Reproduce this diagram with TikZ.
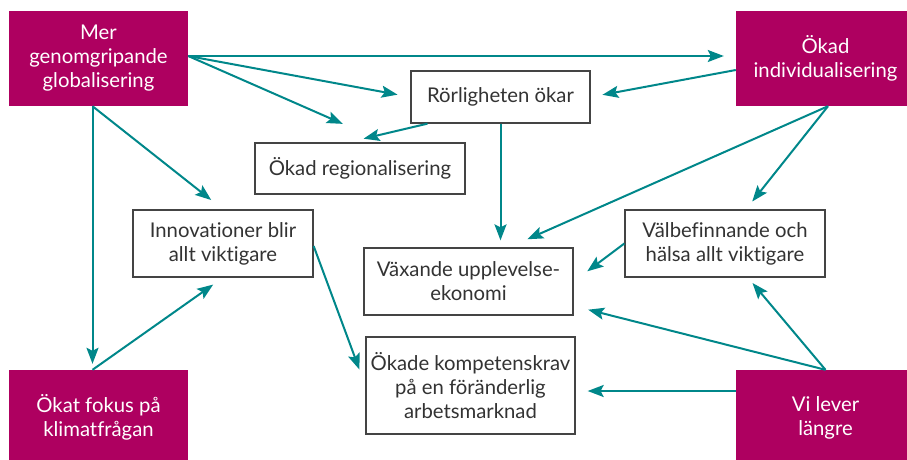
\documentclass[tikz,border=0pt]{standalone}
\usepackage{fontspec}
\setmainfont{Lato}[Ligatures={NoCommon,NoRare}]
\usetikzlibrary{arrows.meta}
\definecolor{plum}{HTML}{AE0060}
\definecolor{tealline}{HTML}{00878A}
\definecolor{boxline}{HTML}{444444}
\begin{document}
\begin{tikzpicture}[x=1pt,y=-1pt,
  driver/.style={fill=plum, text=white, minimum width=179pt, minimum height=95pt, inner sep=0pt, align=center, font=\fontsize{20.3}{24}\selectfont},
  effectbox/.style={draw=boxline, line width=1.3pt, fill=white, text=black!80, inner sep=0pt, align=center, font=\fontsize{20.3}{24}\selectfont},
  arr/.style={draw=tealline, line width=2pt, -{Stealth[length=16pt,width=12pt,inset=3pt]}}]
\useasboundingbox (0,0) rectangle (907,459);
\clip (0,0) rectangle (907,459);
% drivers
\node[driver] (glob) at (98.5,58.5) {Mer\\genomgripande\\globalisering};
\node[driver] (indiv) at (825.5,58.5) {Ökad\\individualisering};
\node[driver] (klimat) at (98.5,417.5) {Ökat fokus på\\klimatfrågan};
\node[driver] (lever) at (825.5,417.5) {Vi lever\\längre};
% effects
\node[effectbox, minimum width=179pt, minimum height=52pt] (rorl) at (500.5,97) {Rörligheten ökar};
\node[effectbox, minimum width=210pt, minimum height=51pt] (region) at (360,168.5) {Ökad regionalisering};
\node[effectbox, minimum width=180pt, minimum height=67pt] (innov) at (223,243.5) {Innovationer blir\\allt viktigare};
\node[effectbox, minimum width=200pt, minimum height=67pt] (valb) at (725,243.5) {Välbefinnande och\\hälsa allt viktigare};
\node[effectbox, minimum width=209pt, minimum height=67pt] (upplev) at (468.5,281.5) {Växande upplevelse-\\ekonomi};
\node[effectbox, minimum width=209pt, minimum height=97pt] (kompet) at (470.5,385.5) {Ökade kompetenskrav\\på en föränderlig\\arbetsmarknad};
% arrows
\draw[arr, shorten >=12pt] ([yshift=2.5pt]glob.east) -- ([yshift=2.5pt]glob.east -| indiv.west);
\draw[arr, shorten >=13pt] ([yshift=2.5pt]glob.east) -- (rorl.west);
\draw[arr, shorten >=46pt] ([yshift=2.5pt]glob.east) -- ([xshift=25pt]region.north);
\draw[arr, shorten >=15pt] ([xshift=-6pt]glob.south) -- (innov.north);
\draw[arr, shorten >=6pt] ([xshift=-6pt]glob.south) -- ([xshift=-6pt]klimat.north);
\draw[arr, shorten >=12pt] ([xshift=-6pt]klimat.north) -- (innov.south);
\draw[arr, shorten >=16pt] ([xshift=-73pt]rorl.south) -- ([xshift=-12pt]region.north);
\draw[arr, shorten >=12pt] ([yshift=-11.5pt]indiv.west) -- (rorl.east);
\draw[arr, shorten >=7pt] (rorl.south) -- (rorl.south |- upplev.north);
\draw[arr, shorten >=20pt] ([xshift=2.5pt]indiv.south) -- ([xshift=40.5pt]upplev.north);
\draw[arr, shorten >=10pt] ([xshift=2.5pt]indiv.south) -- ([xshift=21pt]valb.north);
\draw[arr, shorten >=17pt] ([yshift=-2.5pt]innov.east) -- (kompet.west);
\draw[arr, shorten >=17pt] (valb.west) -- (upplev.east);
\draw[arr, shorten >=7pt] (lever.north) -- ([xshift=23pt]valb.south);
\draw[arr, shorten >=15pt] (lever.north) -- ([yshift=-24.5pt]upplev.east);
\draw[arr, shorten >=12pt] ([yshift=26.5pt]lever.west) -- ([yshift=-5.5pt]kompet.east);
\end{tikzpicture}
\end{document}
